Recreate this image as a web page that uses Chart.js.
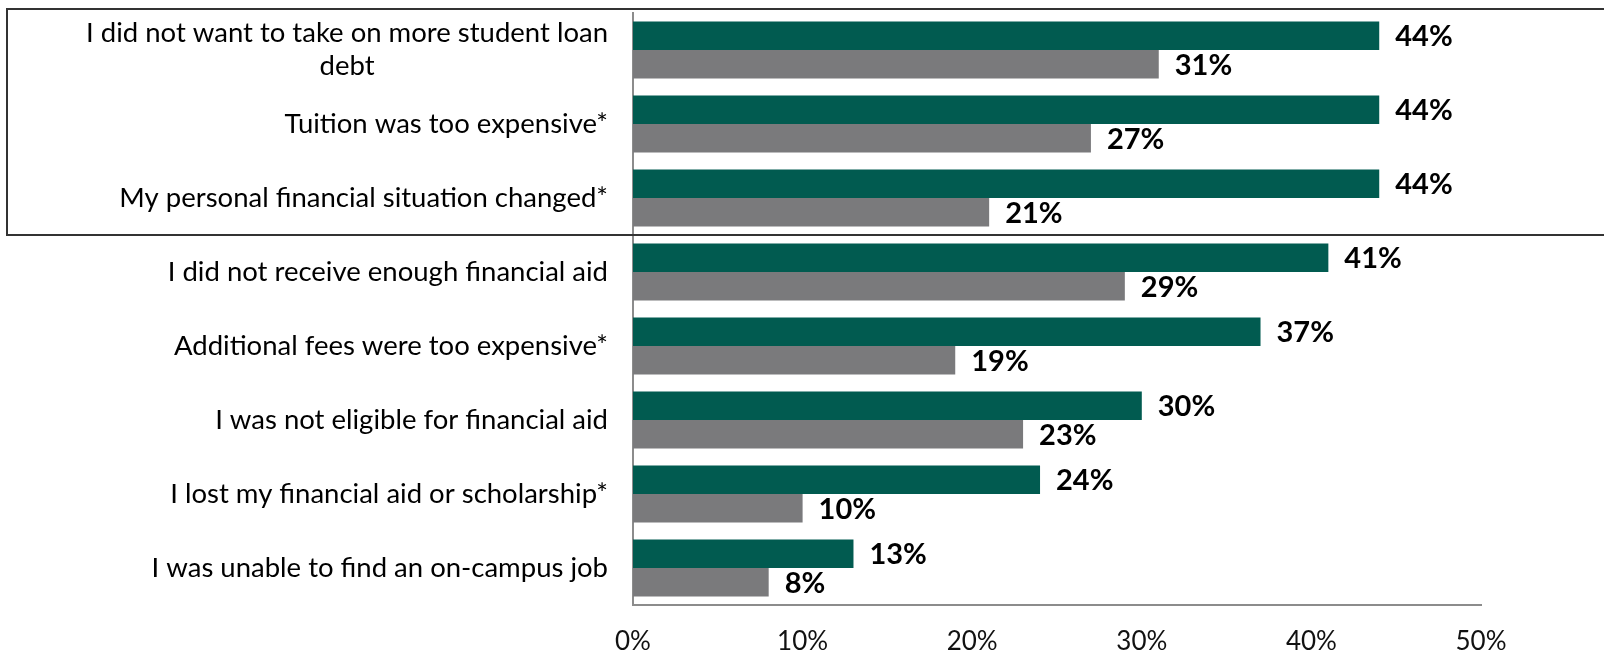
<!DOCTYPE html>
<html>
<head>
<meta charset="utf-8">
<script src="https://cdn.jsdelivr.net/npm/chart.js"></script>
<style>
  html, body { margin: 0; padding: 0; background: #fff; }
  #wrap { width: 1604px; height: 658px; position: relative; }
</style>
</head>
<body>
<div id="wrap"><canvas id="reasons"></canvas></div>
<script>
// one entry per reason, long ones split over lines
const reasons = [
  ["I did not want to take on more student loan", "debt"],
  ["Tuition was too expensive*"],
  ["My personal financial situation changed*"],
  ["I did not receive enough financial aid"],
  ["Additional fees were too expensive*"],
  ["I was not eligible for financial aid"],
  ["I lost my financial aid or scholarship*"],
  ["I was unable to find an on-campus job"]
];
const firstGroup = [44, 44, 44, 41, 37, 30, 24, 13];
const secondGroup = [31, 27, 21, 29, 19, 23, 10, 8];
const xTicks = [0, 10, 20, 30, 40, 50];
// the first few reasons get a frame round them
const framedCount = 3;

const GREEN = '#015b50';
const GRAY = '#7a7a7c';
const LABEL_FONT = '27.5px Lato';
const VALUE_FONT = 'bold 29px Lato';

// category labels: block right aligned, lines centred inside the block
const reasonLabels = {
  id: 'reasonLabels',
  afterDraw(chart) {
    const ctx = chart.ctx;
    const y = chart.scales.y;
    const right = chart.chartArea.left - 25;
    const lh = 33;
    ctx.save();
    ctx.font = LABEL_FONT;
    ctx.fillStyle = '#000';
    ctx.textAlign = 'center';
    ctx.textBaseline = 'middle';
    reasons.forEach((lines, i) => {
      const widest = Math.max(...lines.map(l => ctx.measureText(l).width));
      const cx = right - widest / 2;
      const cy = y.getPixelForTick(i);
      lines.forEach((l, j) => {
        ctx.fillText(l, cx, cy + (j - (lines.length - 1) / 2) * lh);
      });
    });
    ctx.restore();
  }
};

// percent value at the end of every bar
const valueLabels = {
  id: 'valueLabels',
  afterDatasetsDraw(chart) {
    const ctx = chart.ctx;
    ctx.save();
    ctx.font = VALUE_FONT;
    ctx.fillStyle = '#000';
    ctx.textAlign = 'left';
    ctx.textBaseline = 'middle';
    chart.data.datasets.forEach((ds, di) => {
      chart.getDatasetMeta(di).data.forEach((bar, i) => {
        ctx.fillText(ds.data[i] + '%', bar.x + 16, bar.y + 1);
      });
    });
    ctx.restore();
  }
};

// frame round the first categories
const topFrame = {
  id: 'topFrame',
  afterDraw(chart) {
    const ctx = chart.ctx;
    const y = chart.scales.y;
    const bottom = (y.getPixelForTick(framedCount - 1) + y.getPixelForTick(framedCount)) / 2;
    ctx.save();
    ctx.strokeStyle = '#333';
    ctx.lineWidth = 2;
    ctx.strokeRect(7, 9, chart.width + 10, bottom - 9);
    ctx.restore();
  }
};

new Chart(document.getElementById('reasons'), {
  type: 'bar',
  data: {
    labels: reasons,
    datasets: [
      { data: firstGroup, backgroundColor: GREEN, barPercentage: 1, categoryPercentage: 0.77 },
      { data: secondGroup, backgroundColor: GRAY, barPercentage: 1, categoryPercentage: 0.77 }
    ]
  },
  options: {
    indexAxis: 'y',
    responsive: true,
    maintainAspectRatio: false,
    animation: false,
    layout: { padding: { top: 13, right: 123, bottom: 0, left: 0 } },
    plugins: {
      legend: { display: false },
      tooltip: { enabled: false }
    },
    scales: {
      y: {
        grid: { display: false },
        border: { display: true, color: '#8c8c8c', width: 2 },
        ticks: { display: false },
        afterFit: s => { s.width = 633; }
      },
      x: {
        min: 0,
        max: 50,
        grid: { display: false },
        border: { display: true, color: '#8c8c8c', width: 2 },
        afterBuildTicks: s => { s.ticks = xTicks.map(v => ({ value: v })); },
        afterFit: s => { s.height = 53; },
        ticks: {
          padding: 13,
          color: '#111',
          font: { family: 'Lato', size: 26 },
          callback: v => v + '%'
        }
      }
    }
  },
  plugins: [reasonLabels, valueLabels, topFrame]
});
</script>
</body>
</html>
